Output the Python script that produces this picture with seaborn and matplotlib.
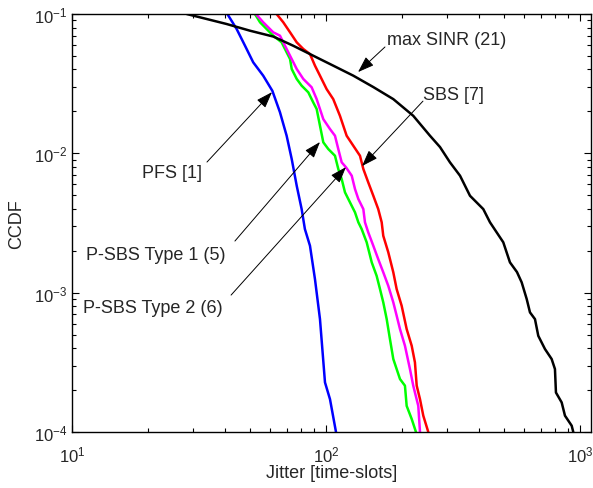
import numpy as np
import pandas as pd
import seaborn as sns
import matplotlib
matplotlib.use('Agg')
import matplotlib.pyplot as plt
from matplotlib.ticker import LogLocator, NullFormatter

# jitter [time-slots] and CCDF
pfs_x = [40.9, 44.5, 48.0, 51.7, 56.6, 61.5, 65.9, 70.0, 73.3, 76.7, 80.2, 82.6, 86.5, 90.5, 94.7, 99.1, 103.7, 109.5]
pfs_y = [0.1, 0.078, 0.0592, 0.045, 0.0361, 0.0281, 0.0197, 0.01338, 0.0091, 0.00585, 0.00398, 0.00286, 0.00217,
         0.00125, 0.000646, 0.000227, 0.000172, 0.0001]

type1_x = [52.5, 55.0, 58.4, 62.0, 66.9, 70.0, 72.2, 73.3, 76.7, 80.2, 85.2, 89.1, 91.9, 94.7, 97.6, 102.1, 108.5,
           111.8, 115.3, 118.8, 124.3, 130.1, 134.1, 138.2, 144.6, 151.4, 158.3, 163.2, 168.1, 173.4, 178.6, 184.1,
           195.6, 204.6, 207.8, 217.5, 226.1]
type1_y = [0.1, 0.0872, 0.078, 0.0699, 0.0626, 0.0531, 0.0475, 0.0403, 0.0342, 0.0306, 0.0274, 0.0232, 0.0208,
           0.0158, 0.012, 0.01074, 0.00961, 0.00772, 0.00654, 0.00525, 0.00445, 0.00377, 0.0032, 0.00286, 0.0023,
           0.00165, 0.00132, 0.00106, 0.000852, 0.000646, 0.000464, 0.000334, 0.00024, 0.000215, 0.000154,
           0.000124, 0.0001]

type2_x = [53.0, 56.6, 62.0, 65.9, 67.9, 70.0, 73.3, 76.7, 81.4, 87.8, 91.9, 97.6, 103.7, 108.5, 111.8, 115.3,
           119.9, 126.3, 130.1, 134.1, 140.3, 142.4, 146.7, 153.6, 160.6, 168.1, 175.9, 184.1, 189.8, 195.6, 204.6,
           214.1, 220.6, 230.9, 234.5]
type2_y = [0.1, 0.0872, 0.0739, 0.0699, 0.0626, 0.0561, 0.0475, 0.0403, 0.0342, 0.0298, 0.0245, 0.0176, 0.01494,
           0.01338, 0.01074, 0.00862, 0.00794, 0.00691, 0.00554, 0.0047, 0.00398, 0.0032, 0.00271, 0.00217,
           0.00174, 0.0014, 0.00112, 0.000852, 0.000683, 0.000548, 0.000416, 0.000283, 0.000215, 0.000154, 0.0001]

sbs_x = [63.9, 67.9, 72.2, 76.7, 81.4, 86.5, 90.5, 94.7, 100.6, 106.8, 113.5, 120.6, 128.1, 136.1, 140.3, 146.7,
         153.6, 160.6, 165.7, 168.1, 175.9, 184.1, 189.8, 198.6, 207.8, 217.5, 224.0, 227.6, 234.5, 241.6, 252.8]
sbs_y = [0.1, 0.0872, 0.0739, 0.0626, 0.0561, 0.0516, 0.0426, 0.0361, 0.0289, 0.0245, 0.0186, 0.01338, 0.01134,
         0.00961, 0.00772, 0.00619, 0.00496, 0.00398, 0.0032, 0.00256, 0.00195, 0.0014, 0.00106, 0.000805,
         0.000548, 0.000416, 0.000316, 0.000215, 0.000172, 0.000131, 0.0001]

sinr_x = [28.3, 33.9, 40.6, 50.2, 62.0, 74.3, 89.1, 106.8, 128.1, 153.6, 184.1, 220.6, 256.7, 281.1, 307.7, 337.1,
          369.0, 416.2, 442.3, 469.9, 498.9, 530.1, 564.9, 589.5, 617.0, 635.6, 665.0, 685.3, 728.1, 773.6, 797.1,
          804.3, 847.2, 872.8, 927.6, 941.1]
sinr_y = [0.1, 0.0921, 0.0848, 0.0759, 0.0689, 0.0592, 0.0502, 0.0426, 0.0361, 0.0299, 0.0245, 0.0186, 0.01338,
          0.0111, 0.00862, 0.00691, 0.00496, 0.00398, 0.0032, 0.00271, 0.0023, 0.00165, 0.001406, 0.001186, 0.0009,
          0.000722, 0.000646, 0.00049, 0.000394, 0.000334, 0.000283, 0.000192, 0.000163, 0.000131, 0.000111, 0.0001]

# label text, text position, arrow tail, arrow tip
labels = ['max SINR (21)', 'SBS [7]', 'PFS [1]', 'P-SBS Type 1 (5)', 'P-SBS Type 2 (6)']
label_pos = [(173.9, 0.0661), (240.9, 0.02665), (18.86, 0.00734), (11.35, 0.00189), (11.05, 0.000788)]
arrow_tail = [(170.7, 0.058), (240.9, 0.0237), (34.0, 0.00866), (43.8, 0.002347), (42.3, 0.000961)]
arrow_tip = [(133.7, 0.0383), (138.6, 0.0081), (61.3, 0.0275), (94.7, 0.01206), (119.9, 0.00797)]

sns.set_style('ticks')
plt.rcParams['font.family'] = ['Liberation Sans', 'DejaVu Sans']
plt.rcParams['mathtext.fontset'] = 'custom'
plt.rcParams['mathtext.rm'] = 'Liberation Sans'
plt.rcParams['mathtext.it'] = 'Liberation Sans'

fig = plt.figure(figsize=(5.93, 4.89), dpi=100)
ax = fig.add_axes([0.1214, 0.1145, 0.8752, 0.8548])

series = [(pfs_x, pfs_y, '#0000ff'), (type1_x, type1_y, '#00ff00'), (type2_x, type2_y, '#ff00ff'),
          (sbs_x, sbs_y, '#ff0000'), (sinr_x, sinr_y, '#000000')]
for xs, ys, col in series:
    d = pd.DataFrame({'x': xs, 'y': ys})
    sns.lineplot(data=d, x='x', y='y', color=col, lw=1.8, sort=False, estimator=None, ax=ax)

ax.set_xscale('log')
ax.set_yscale('log')
ax.set_xlim(10, 1105)
ax.set_ylim(1e-4, 1e-1)

ax.xaxis.set_minor_locator(LogLocator(subs=np.arange(2, 10)))
ax.yaxis.set_minor_locator(LogLocator(subs=np.arange(2, 10)))
ax.xaxis.set_minor_formatter(NullFormatter())
ax.yaxis.set_minor_formatter(NullFormatter())
ax.tick_params(which='both', direction='in', top=True, right=True, labelsize=12, width=0.8, color='black')
ax.tick_params(which='major', length=5)
ax.tick_params(which='minor', length=3)
ax.tick_params(axis='x', which='major', pad=9)
for s in ax.spines.values():
    s.set_linewidth(1.0)
    s.set_color('black')

ax.set_xlabel('Jitter [time-slots]', fontsize=13, labelpad=0)
ax.set_ylabel('CCDF', fontsize=13, labelpad=6)

for lab, p, t0, t1 in zip(labels, label_pos, arrow_tail, arrow_tip):
    ax.text(p[0], p[1], lab, fontsize=13, ha='left', va='center')
    ax.annotate('', xy=t1, xytext=t0,
                arrowprops=dict(arrowstyle='-|>,head_length=1.0,head_width=0.35', color='black', lw=0.7,
                                shrinkA=0, shrinkB=0))

fig.savefig('out.png', dpi=100)
